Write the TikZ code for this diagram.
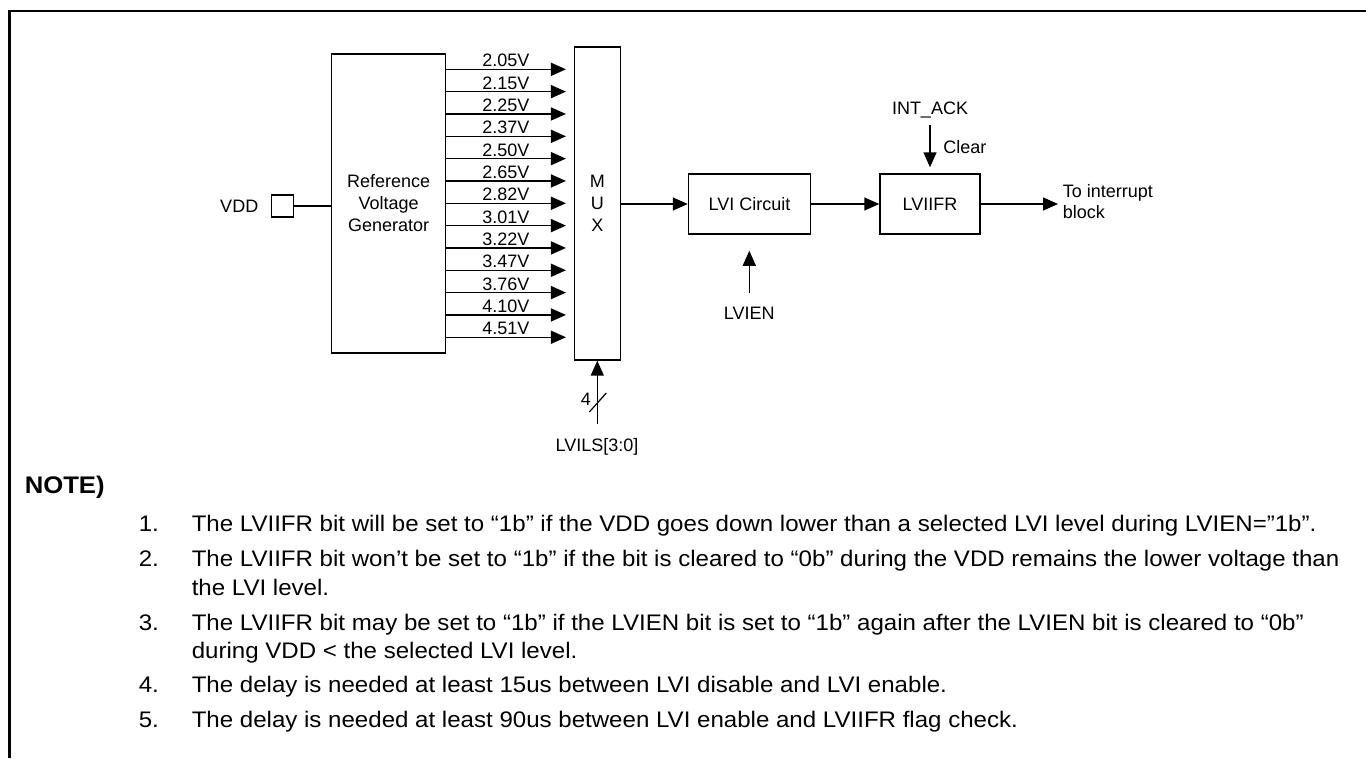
\documentclass[tikz,border=0pt]{standalone}
\usepackage{fontspec}
\setmainfont{Liberation Sans}
\newfontfamily\notefont[FakeStretch=1.07]{Liberation Sans}
\usetikzlibrary{arrows.meta,calc,positioning}
\newcommand\notesize{\notefont\fontsize{22.5}{28.3}\selectfont}

\begin{document}
\begin{tikzpicture}[
  x=1pt, y=-1pt,
  >={Triangle[length=15pt,width=13pt]},
  line width=1.5pt,
  line join=miter,
  every node/.style={font=\fontsize{18}{22}\selectfont},
  block/.style={draw, line width=1.5pt, inner sep=0pt, align=center},
  notenum/.style={anchor=base west, inner sep=0pt, font=\notesize},
  notetext/.style={anchor=base west, inner sep=0pt, align=left, font=\notesize}
]
  \useasboundingbox (0,0) rectangle (1366,758);

  % page frame (top and left edge)
  \draw[line width=2.5pt] (9.3,758) |- (1366,11.2);

  % blocks
  \node[draw, line width=1.5pt, minimum size=22pt, inner sep=0pt] (vddpin) at (282.5,206) {};
  \node[anchor=east, inner sep=0pt] (vddlbl) at (259,206) {VDD};
  \node[block, minimum width=114pt, minimum height=299pt] (refgen) at (388.7,203.3) {Reference\\Voltage\\Generator};
  \node[block, minimum width=46pt, minimum height=313pt] (mux) at (597.3,203.4) {M\\U\\X};
  \node[block, minimum width=122pt, minimum height=60pt] (lvic) at (749.5,204) {LVI Circuit};
  \node[block, minimum width=100pt, minimum height=60pt] (lviifr) at (930,204) {LVIIFR};

  \draw (vddpin.east) -- (vddpin.east -| refgen.west);

  % reference levels into the mux
  \foreach \volt [count=\k from 0] in {2.05,2.15,2.25,2.37,2.50,2.65,2.82,3.01,3.22,3.47,3.76,4.10,4.51}{
    \pgfmathsetmacro\yy{69.3+22.33*\k}
    \draw[->, shorten >=7.6pt] (refgen.east |- 0,\yy) -- (mux.west |- 0,\yy)
      node[pos=0.467, above, inner sep=1.5pt] {\volt V};
  }

  \draw[->] (mux.east |- lvic.west) -- (lvic.west);
  \draw[->] (lvic.east) -- (lviifr.west);

  \coordinate (irqout) at (1058,204);
  \draw[->] (lviifr.east) -- (irqout);
  \node[anchor=west, align=left, inner sep=0pt, font=\fontsize{18}{21}\selectfont] (irqlbl) at (1062,202) {To interrupt\\block};

  % clear input
  \node (intack) at (930,110) {INT\_ACK};
  \coordinate (ackin) at (930,125);
  \draw[->, shorten >=6pt] (ackin) -- (lviifr.north);
  \node[anchor=west, inner sep=0pt] (clearlbl) at (942.7,146.7) {Clear};

  % enable input
  \node (lvien) at (749.3,313) {LVIEN};
  \coordinate (enin) at (749.3,293);
  \draw[->, shorten >=16pt] (enin) -- (enin |- lvic.south);

  % level select bus
  \node (lvils) at (597,447) {LVILS[3:0]};
  \coordinate (selin) at (597.3,424);
  \draw[->] (selin) -- (mux.south);
  \draw[line width=1.2pt] ($(selin)+(-8,-12)$) -- ++(17,-19);
  \node[anchor=east, inner sep=0pt] (buswidth) at (591.7,399) {4};

  % notes (base of a two-line note is its last line)
  \node[anchor=base west, inner sep=0pt, font=\notefont\bfseries\fontsize{24}{28}\selectfont] (notehd) at (24,493) {NOTE)};
  \foreach \k/\b in {1/531.7, 2/566.7, 3/630, 4/692.3, 5/727.3}
    \node[notenum] (num\k) at (138,\b) {\k.};
  \node[notetext] (note1) at (191,531.7) {The LVIIFR bit will be set to “1b” if the VDD goes down lower than a selected LVI level during LVIEN=”1b”.};
  \node[notetext] (note2) at (191,595) {The LVIIFR bit won’t be set to “1b” if the bit is cleared to “0b” during the VDD remains the lower voltage than\\the LVI level.};
  \node[notetext] (note3) at (191,658.3) {The LVIIFR bit may be set to “1b” if the LVIEN bit is set to “1b” again after the LVIEN bit is cleared to “0b”\\during VDD < the selected LVI level.};
  \node[notetext] (note4) at (191,692.3) {The delay is needed at least 15us between LVI disable and LVI enable.};
  \node[notetext] (note5) at (191,727.3) {The delay is needed at least 90us between LVI enable and LVIIFR flag check.};
\end{tikzpicture}
\end{document}
